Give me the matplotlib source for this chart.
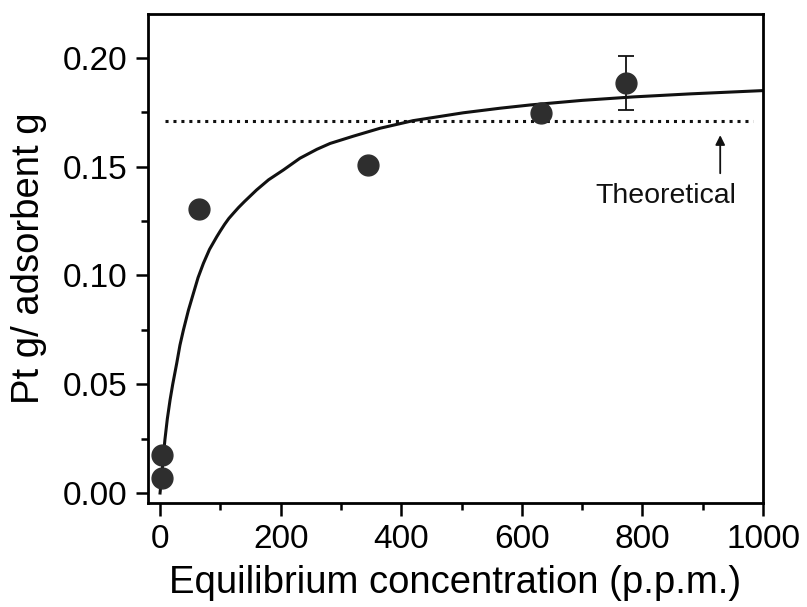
import matplotlib
matplotlib.use("Agg")
import matplotlib.pyplot as plt
from matplotlib.ticker import MultipleLocator

plt.rcParams['font.family'] = ['Liberation Sans', 'DejaVu Sans']

# Measured data points
conc = [3, 3, 65, 345, 632, 772]
uptake = [0.007, 0.0175, 0.1305, 0.1508, 0.1749, 0.1884]
uptake_err = [0, 0, 0, 0, 0, 0.0123]

# Fitted curve
fit_conc = [0, 4, 8, 12, 16.6, 21, 27.6, 33, 38.7, 47, 55.3, 63, 71.9, 82, 94,
            100, 107, 114, 121.6, 130, 140, 160, 180, 204.5, 232, 260, 282,
            320, 365, 420, 503, 564, 614, 700, 785, 880, 1000]
fit_uptake = [0.0, 0.012, 0.0244, 0.034, 0.0428, 0.050, 0.0596, 0.068,
              0.0749, 0.084, 0.0918, 0.099, 0.1056, 0.112, 0.1178, 0.1205,
              0.1235, 0.1262, 0.1286, 0.1312, 0.1340, 0.1393, 0.1440, 0.1485,
              0.1539, 0.158, 0.1607, 0.164, 0.1677, 0.1712, 0.1748, 0.1769,
              0.1784, 0.1805, 0.1821, 0.1835, 0.1850]

# Theoretical level
theo_x = [8, 983]
theo_y = [0.171, 0.171]

fig = plt.figure(figsize=(8.07, 6.07), dpi=100)
ax = fig.add_axes([0.1834, 0.1713, 0.9455 - 0.1834, 0.9769 - 0.1713])

ax.plot(fit_conc, fit_uptake, color='#111111', lw=2.2, zorder=2,
        solid_joinstyle='round')
ax.plot(theo_x, theo_y, color='#111111', lw=2.2, dashes=(1.0, 1.6), zorder=2)
ax.errorbar(conc, uptake, yerr=uptake_err, fmt='o', color='#2e2e2e',
            markersize=15, ecolor='#111111', elinewidth=1.3, capsize=5.5,
            capthick=1.3, zorder=3)

ax.annotate('', xy=(929, 0.1645), xytext=(929, 0.147),
            arrowprops=dict(arrowstyle='-|>', color='#111111', lw=1.3,
                            mutation_scale=14, shrinkA=0, shrinkB=0))
ax.text(838, 0.1365, 'Theoretical', fontsize=20.5, ha='center', va='center',
        color='#111111')

ax.set_xlim(-20, 1000)
ax.set_ylim(-0.0046, 0.2202)
ax.xaxis.set_major_locator(MultipleLocator(200))
ax.xaxis.set_minor_locator(MultipleLocator(100))
ax.yaxis.set_major_locator(MultipleLocator(0.05))
ax.yaxis.set_minor_locator(MultipleLocator(0.025))
ax.yaxis.set_major_formatter(matplotlib.ticker.FormatStrFormatter('%.2f'))

for s in ax.spines.values():
    s.set_linewidth(2.0)
ax.tick_params(which='major', direction='out', length=9, width=1.8,
               labelsize=24, pad=6)
ax.tick_params(which='minor', direction='out', length=5, width=1.8)

ax.set_xlabel('Equilibrium concentration (p.p.m.)', fontsize=27.5, labelpad=7)
ax.set_ylabel('Pt g/ adsorbent g', fontsize=27.5, labelpad=11)

fig.savefig('out.png', dpi=100)
